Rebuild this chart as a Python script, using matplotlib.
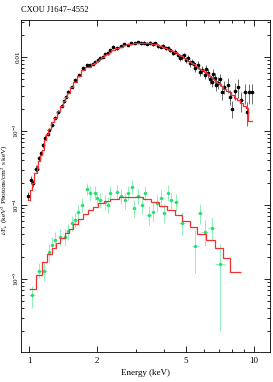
import math
import matplotlib
matplotlib.use("Agg")
import matplotlib.pyplot as plt
from matplotlib.ticker import FixedLocator, NullFormatter, LogLocator, FuncFormatter

plt.rcParams['font.family'] = ['Liberation Serif', 'DejaVu Serif']
plt.rcParams['mathtext.fontset'] = 'stix'

# black spectrum: energy (keV), data, relative error, model
E_k = [0.99, 1.02, 1.04, 1.07, 1.09, 1.11, 1.13, 1.15, 1.18, 1.21, 1.23, 1.27, 1.30, 1.35,
       1.40, 1.43, 1.46, 1.49, 1.55, 1.60, 1.67, 1.74, 1.81, 1.87, 1.92, 1.96, 2.02, 2.07,
       2.13, 2.18, 2.24, 2.29, 2.36, 2.46, 2.56, 2.65, 2.75, 2.85, 2.95, 3.05, 3.15, 3.25,
       3.35, 3.45, 3.55, 3.65, 3.75, 3.85, 3.95, 4.05, 4.15, 4.25, 4.36, 4.48, 4.60, 4.69,
       4.78, 4.90, 5.00, 5.10, 5.20, 5.30, 5.40, 5.50, 5.66, 5.78, 5.90, 6.05, 6.15, 6.25,
       6.38, 6.50, 6.60, 6.70, 6.80, 6.90, 7.05, 7.20, 7.40, 7.65, 7.85, 8.00, 8.25, 8.50,
       8.80, 9.10, 9.30, 9.55, 9.80]
F_k = [1.32e-4, 2.2e-4, 1.95e-4, 3.1e-4, 3.1e-4, 4.3e-4, 5.0e-4, 6.4e-4, 8.1e-4, 9.0e-4,
       1.03e-3, 1.2e-3, 1.5e-3, 1.8e-3, 2.2e-3, 2.5e-3, 2.9e-3, 3.4e-3, 3.9e-3, 4.9e-3,
       5.7e-3, 7.1e-3, 7.8e-3, 7.8e-3, 8.0e-3, 8.5e-3, 9.0e-3, 9.7e-3, 1.0e-2, 1.1e-2,
       1.12e-2, 1.24e-2, 1.37e-2, 1.3e-2, 1.4e-2, 1.48e-2, 1.45e-2, 1.55e-2, 1.53e-2, 1.58e-2,
       1.52e-2, 1.56e-2, 1.5e-2, 1.55e-2, 1.48e-2, 1.52e-2, 1.4e-2, 1.37e-2, 1.42e-2, 1.3e-2,
       1.32e-2, 1.22e-2, 1.13e-2, 1.18e-2, 1.06e-2, 9.7e-3, 1.0e-2, 1.05e-2, 9.0e-3, 9.7e-3,
       8.2e-3, 8.6e-3, 7.9e-3, 7.1e-3, 7.8e-3, 6.3e-3, 6.7e-3, 5.7e-3, 6.8e-3, 6.0e-3,
       5.0e-3, 4.6e-3, 5.9e-3, 5.2e-3, 4.2e-3, 4.5e-3, 5.0e-3, 3.3e-3, 3.9e-3, 4.2e-3,
       2.9e-3, 2.0e-3, 3.5e-3, 3.9e-3, 2.6e-3, 3.3e-3, 1.8e-3, 3.3e-3, 3.3e-3]
R_k = [0.12, 0.12, 0.1, 0.1, 0.1, 0.08, 0.08, 0.07, 0.07, 0.06, 0.06, 0.05, 0.05, 0.05,
       0.05, 0.04, 0.04, 0.04, 0.04, 0.04, 0.04, 0.04, 0.04, 0.04, 0.04, 0.04, 0.04, 0.04,
       0.04, 0.04, 0.04, 0.04, 0.04, 0.04, 0.04, 0.04, 0.04, 0.04, 0.04, 0.04, 0.04, 0.04,
       0.05, 0.05, 0.05, 0.05, 0.05, 0.05, 0.06, 0.06, 0.06, 0.06, 0.07, 0.07, 0.07, 0.08,
       0.08, 0.08, 0.09, 0.09, 0.1, 0.1, 0.1, 0.11, 0.11, 0.12, 0.12, 0.13, 0.13, 0.14,
       0.15, 0.15, 0.16, 0.17, 0.18, 0.18, 0.19, 0.2, 0.2, 0.22, 0.24, 0.26, 0.26, 0.28,
       0.3, 0.3, 0.35, 0.3, 0.3]
M_k = [1.15e-4, 1.6e-4, 2.0e-4, 2.7e-4, 3.2e-4, 3.9e-4, 4.7e-4, 5.6e-4, 7.5e-4, 9.2e-4,
       1.05e-3, 1.3e-3, 1.5e-3, 1.85e-3, 2.2e-3, 2.5e-3, 2.85e-3, 3.2e-3, 3.9e-3, 4.6e-3,
       5.5e-3, 6.6e-3, 7.2e-3, 7.3e-3, 7.9e-3, 8.3e-3, 8.8e-3, 9.3e-3, 9.9e-3, 1.05e-2,
       1.1e-2, 1.15e-2, 1.22e-2, 1.3e-2, 1.37e-2, 1.43e-2, 1.47e-2, 1.5e-2, 1.53e-2, 1.54e-2,
       1.55e-2, 1.55e-2, 1.54e-2, 1.52e-2, 1.5e-2, 1.47e-2, 1.44e-2, 1.41e-2, 1.37e-2, 1.33e-2,
       1.29e-2, 1.25e-2, 1.2e-2, 1.15e-2, 1.1e-2, 1.06e-2, 1.02e-2, 9.7e-3, 9.3e-3, 8.9e-3,
       8.5e-3, 8.2e-3, 7.9e-3, 7.6e-3, 7.2e-3, 6.9e-3, 6.6e-3, 6.2e-3, 6.0e-3, 5.8e-3,
       5.5e-3, 5.3e-3, 5.1e-3, 4.9e-3, 4.7e-3, 4.5e-3, 4.3e-3, 4.0e-3, 3.7e-3, 3.5e-3,
       3.3e-3, 3.1e-3, 2.8e-3, 2.6e-3, 2.35e-3, 2.2e-3, 2.05e-3, 1.37e-3, 1.37e-3]

# green spectrum: energy, half bin width, data, lower/upper errors
E_g = [1.03, 1.11, 1.17, 1.23, 1.27, 1.30, 1.37, 1.45, 1.49, 1.55, 1.60, 1.65, 1.72, 1.81,
       1.87, 1.96, 2.00, 2.07, 2.18, 2.25, 2.29, 2.46, 2.56, 2.67, 2.75, 2.87, 2.93, 3.05,
       3.18, 3.28, 3.41, 3.55, 3.70, 3.86, 4.00, 4.15, 4.30, 4.50, 4.78, 5.50, 5.76, 6.05,
       6.50, 7.10]
W_g = [0.03, 0.03, 0.03, 0.02, 0.02, 0.02, 0.03, 0.03, 0.02, 0.03, 0.03, 0.03, 0.03, 0.03,
       0.03, 0.03, 0.03, 0.04, 0.05, 0.04, 0.04, 0.06, 0.05, 0.05, 0.05, 0.06, 0.05, 0.07,
       0.07, 0.06, 0.08, 0.08, 0.08, 0.09, 0.08, 0.09, 0.09, 0.12, 0.15, 0.2, 0.15, 0.2,
       0.25, 0.35]
F_g = [6.0e-6, 1.28e-5, 1.28e-5, 2.3e-5, 2.9e-5, 3.4e-5, 3.7e-5, 3.7e-5, 4.4e-5, 5.7e-5,
       6.3e-5, 8.0e-5, 1.0e-4, 1.65e-4, 1.45e-4, 1.45e-4, 1.24e-4, 1.15e-4, 1.1e-4, 1.0e-4,
       1.45e-4, 1.5e-4, 1.3e-4, 1.15e-4, 1.45e-4, 1.75e-4, 9.0e-5, 1.3e-4, 1.0e-4, 1.45e-4,
       7.3e-5, 8.0e-5, 1.06e-4, 1.25e-4, 7.8e-5, 1.45e-4, 1.15e-4, 1.1e-4, 5.7e-5, 2.8e-5,
       7.8e-5, 4.3e-5, 4.9e-5, 1.6e-5]
L_g = [2.0e-6, 2.5e-6, 3.5e-6, 6e-6, 7e-6, 8e-6, 9e-6, 9e-6, 1.0e-5, 1.2e-5,
       1.3e-5, 1.6e-5, 2.0e-5, 3.0e-5, 2.8e-5, 2.8e-5, 2.5e-5, 2.4e-5, 2.4e-5, 2.2e-5,
       3.0e-5, 3.0e-5, 2.8e-5, 2.6e-5, 3.0e-5, 3.5e-5, 2.2e-5, 2.8e-5, 2.4e-5, 3.0e-5,
       2.0e-5, 2.1e-5, 2.6e-5, 3.0e-5, 2.1e-5, 3.2e-5, 2.8e-5, 2.8e-5, 1.8e-5, 1.6e-5,
       2.2e-5, 1.5e-5, 1.6e-5, 1.4e-5]
U_g = [2.0e-6, 3.5e-6, 4.0e-6, 7e-6, 8e-6, 9e-6, 1.0e-5, 1.0e-5, 1.2e-5, 1.4e-5,
       1.5e-5, 1.9e-5, 2.4e-5, 3.5e-5, 3.3e-5, 3.3e-5, 3.0e-5, 2.8e-5, 2.8e-5, 2.6e-5,
       3.5e-5, 3.5e-5, 3.2e-5, 3.0e-5, 3.5e-5, 4.0e-5, 2.6e-5, 3.2e-5, 2.8e-5, 3.5e-5,
       2.4e-5, 2.5e-5, 3.0e-5, 3.5e-5, 2.5e-5, 3.8e-5, 3.2e-5, 3.2e-5, 2.2e-5, 2.0e-5,
       2.6e-5, 1.9e-5, 2.0e-5, 1.4e-5]
# green model: bin edges and values
G_edges = [1.0, 1.07, 1.14, 1.2, 1.26, 1.32, 1.38, 1.44, 1.5, 1.57, 1.65, 1.73, 1.82, 1.92,
           2.03, 2.15, 2.3, 2.5, 2.7, 2.95, 3.2, 3.5, 3.8, 4.1, 4.45, 4.8, 5.2, 5.6, 6.1,
           6.7, 7.3, 7.8, 8.8]
G_model = [7.2e-6, 1.13e-5, 1.7e-5, 2.2e-5, 2.6e-5, 3.1e-5, 3.6e-5, 4.2e-5, 4.8e-5, 5.6e-5,
           6.5e-5, 7.5e-5, 8.5e-5, 9.5e-5, 1.05e-4, 1.13e-4, 1.2e-4, 1.26e-4, 1.28e-4, 1.26e-4,
           1.2e-4, 1.1e-4, 9.8e-5, 8.5e-5, 7.3e-5, 6.1e-5, 5.0e-5, 4.1e-5, 3.4e-5, 2.6e-5,
           1.9e-5, 1.24e-5]

fig = plt.figure(figsize=(2.73, 3.82), dpi=100)
ax = fig.add_axes([0.077, 0.0785, 0.912, 0.8695])

# black data + model
yerr_k = [f * r for f, r in zip(F_k, R_k)]
xerr_k = [0.012 * e for e in E_k]
ax.errorbar(E_k, F_k, yerr=yerr_k, xerr=xerr_k, fmt='o', ms=1.6, color='black',
            ecolor='#555555', elinewidth=0.6, capsize=0, zorder=3)
ax.step(E_k, M_k, where='mid', color='#f03030', lw=0.9, zorder=4)

# green data + model
ax.errorbar(E_g, F_g, yerr=[L_g, U_g], xerr=W_g, fmt='o', ms=1.4, color='#22e070',
            ecolor='#90f0b8', elinewidth=0.7, capsize=0, zorder=3)
ax.stairs(G_model, G_edges, baseline=None, color='#f03030', lw=0.9, zorder=4)

ax.set_xscale('log')
ax.set_yscale('log')
ax.set_xlim(0.921, 11.8)
ax.set_ylim(1.03e-6, 3.16e-2)

ax.xaxis.set_major_locator(FixedLocator([1, 2, 5, 10]))
ax.xaxis.set_minor_locator(FixedLocator([3, 4, 6, 7, 8, 9]))
ax.xaxis.set_major_formatter(FuncFormatter(lambda v, p: '%g' % v))
ax.xaxis.set_minor_formatter(NullFormatter())

ax.yaxis.set_major_locator(LogLocator(base=10, numticks=10))
ax.yaxis.set_minor_locator(LogLocator(base=10, subs=range(2, 10), numticks=20))
ax.yaxis.set_minor_formatter(NullFormatter())


def ylab(v, p):
    if abs(v - 0.01) < 1e-6:
        return '0.01'
    return r'10$^{%d}$' % round(math.log10(v))


ax.yaxis.set_major_formatter(FuncFormatter(ylab))
ax.tick_params(which='both', direction='in', top=True, right=True, labelsize=6.5, width=0.6)
ax.tick_params(which='major', length=4)
ax.tick_params(which='minor', length=2)
ax.tick_params(axis='y', pad=0, labelsize=5.2)
for lab in ax.get_yticklabels():
    lab.set_rotation(90)
    lab.set_va('center')
for s in ax.spines.values():
    s.set_linewidth(0.6)

ax.set_xlabel('Energy (keV)', fontsize=6.5, labelpad=3)
ax.set_ylabel(r'$\nu$F$_\nu$ (keV$^2$ Photons/cm$^2$ s keV)', fontsize=5.2, va='center')
ax.yaxis.set_label_coords(-0.066, 0.49)
fig.text(0.077, 0.975, 'CXOU J1647\u22124552', fontsize=6, ha='left', va='center')

fig.savefig('out.png', dpi=100)
